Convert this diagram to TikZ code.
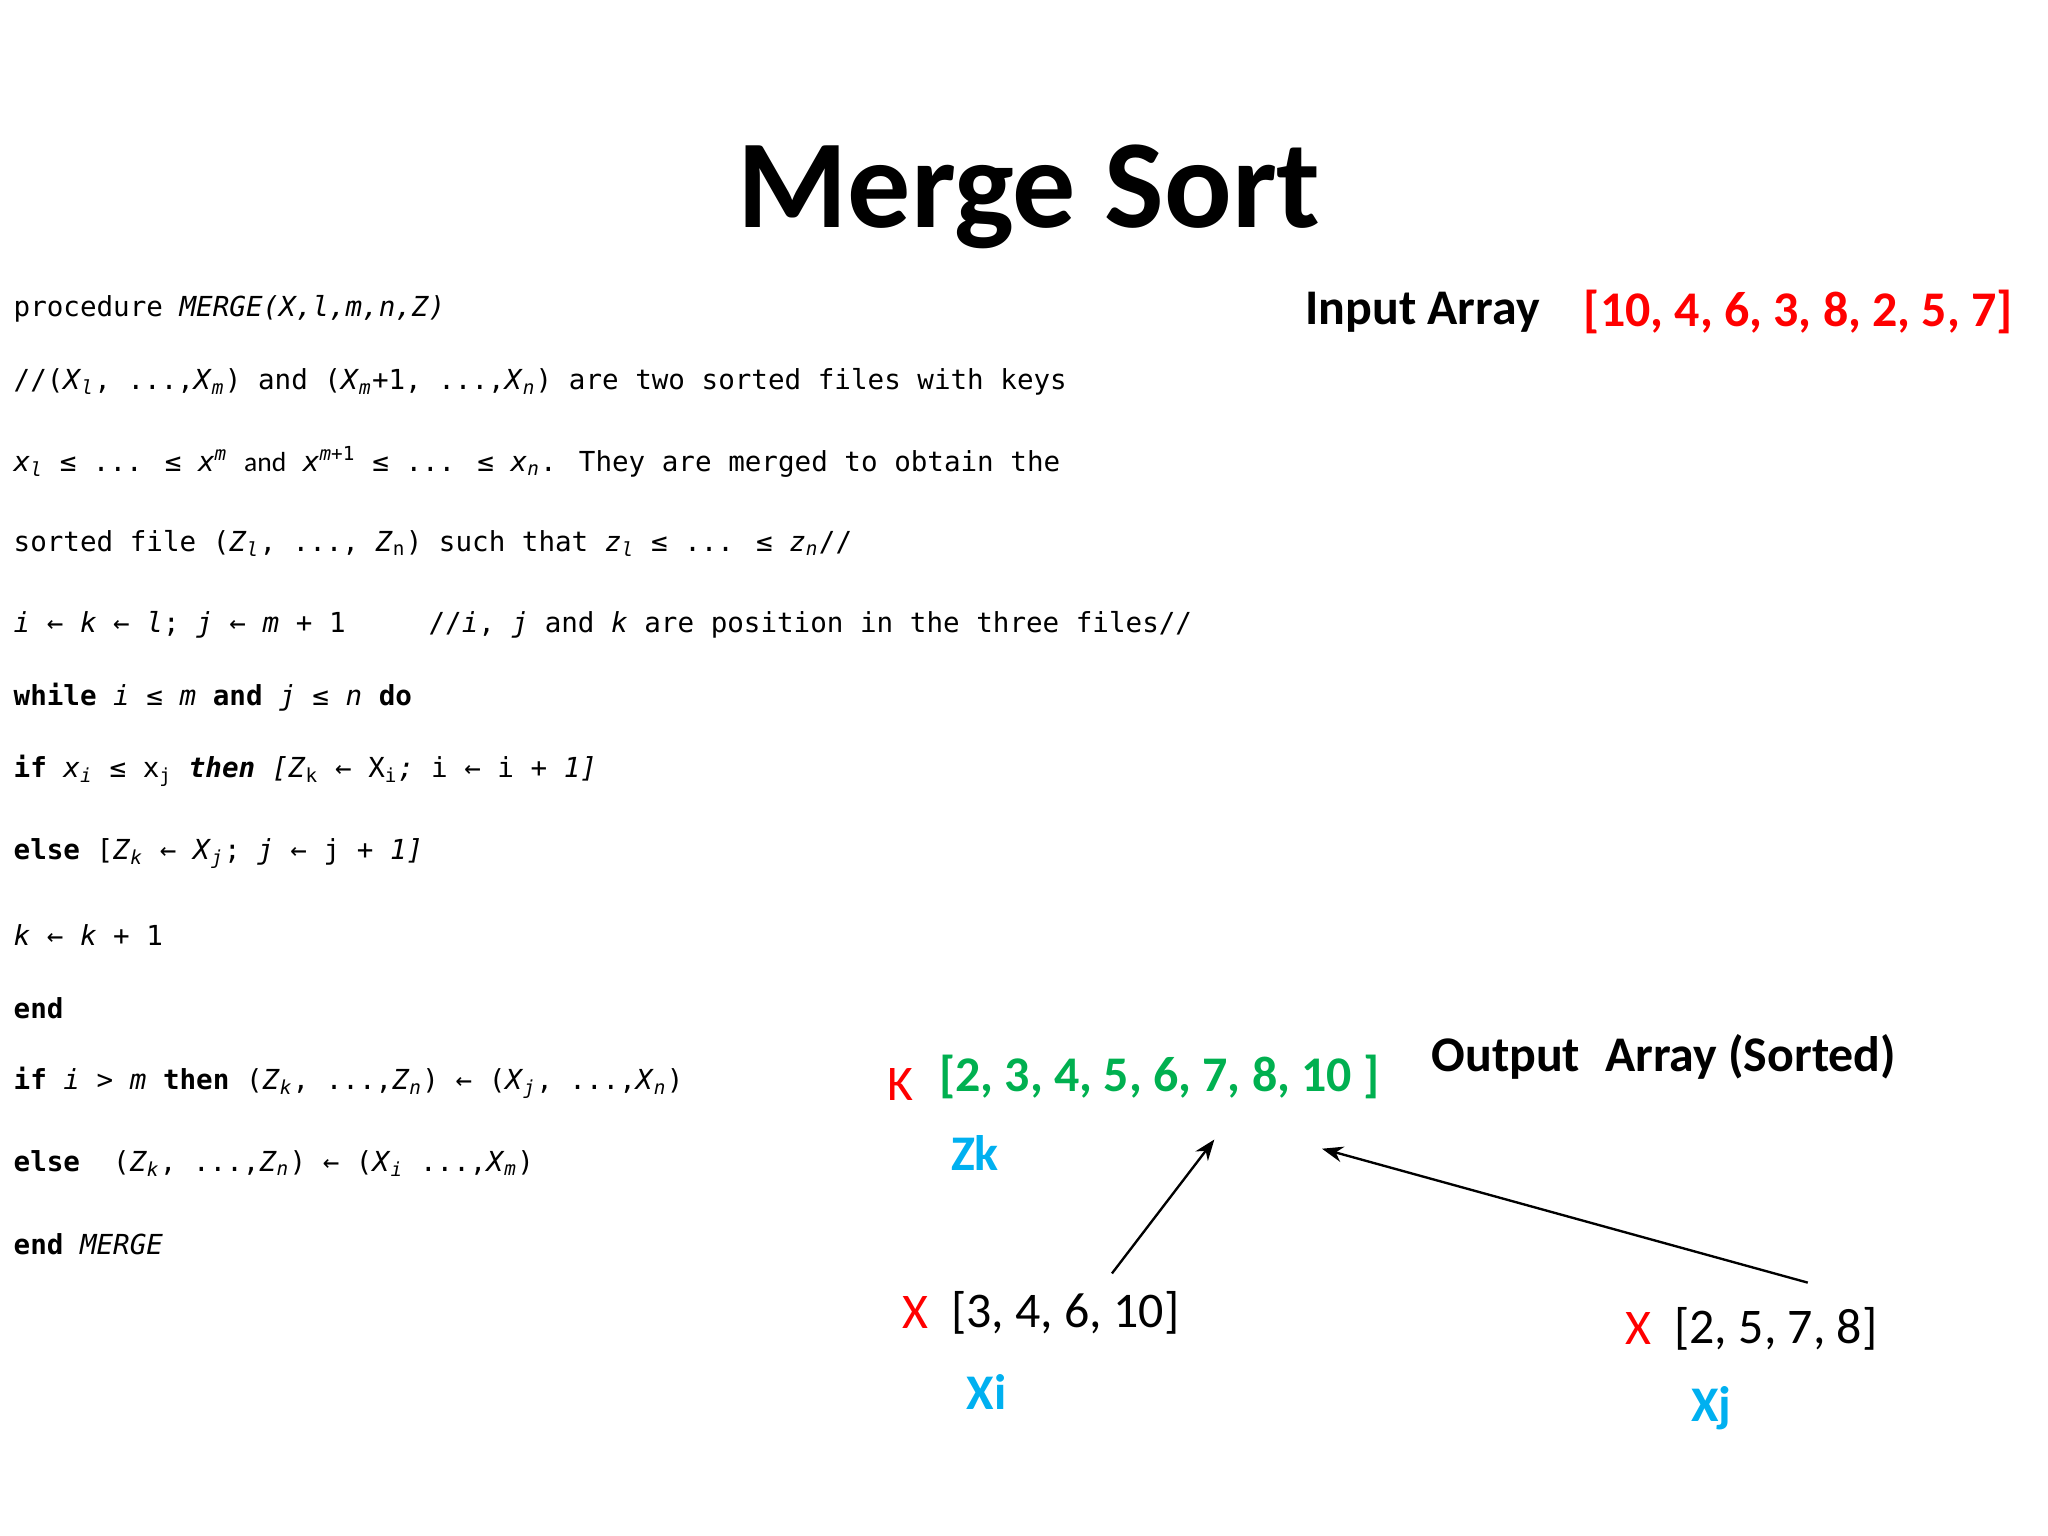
\documentclass[tikz,border=0pt]{standalone}
\usepackage{fontspec}
\usetikzlibrary{arrows.meta}
\setmainfont{Carlito}
\newfontfamily\codef{DejaVu Sans Mono}
\definecolor{myred}{HTML}{FF0000}
\definecolor{mygreen}{HTML}{00B050}
\definecolor{mycyan}{HTML}{00B0F0}
\newcommand{\mysub}[1]{\textsubscript{#1}}
\newcommand{\mysup}[1]{\textsuperscript{#1}}
\begin{document}
\begin{tikzpicture}[x=0.5pt,y=-0.5pt,
  code/.style={anchor=west,inner sep=0pt,font=\codef\fontsize{10.5}{12}\selectfont},
  lbl/.style={inner sep=0pt,font=\bfseries\fontsize{19}{22}\selectfont},
  val/.style={inner sep=0pt,font=\fontsize{19}{22}\selectfont},
  arr/.style={-{Stealth[length=8pt,width=6pt]},line width=0.9pt}]
\useasboundingbox (0,0) rectangle (1560,1170);
\node[inner sep=0pt,font=\bfseries\fontsize{48}{52}\selectfont] (title) at (784,150) {Merge Sort};
\node[code] (l1) at (10,235) {procedure \textit{MERGE(X,l,m,n,Z)}};
\node[code] (l2) at (10,291) {//(\textit{X}\mysub{\textit{l}}, ...,\textit{X}\mysub{\textit{m}}) and (\textit{X}\mysub{\textit{m}}+1, ...,\textit{X}\mysub{\textit{n}}) are two sorted files with keys};
\node[code] (l3) at (10,352) {\textit{x}\mysub{\textit{l}} ≤ ... ≤ \textit{x}\mysup{\textit{m}} {\rmfamily and} \textit{x}\mysup{\textit{m}+1} ≤ ... ≤ \textit{x}\mysub{\textit{n}}. They are merged to obtain the};
\node[code] (l4) at (10,414) {sorted file (\textit{Z}\mysub{\textit{l}}, ..., \textit{Z}\mysub{n}) such that \textit{z}\mysub{\textit{l}} ≤ ... ≤ \textit{z}\mysub{\textit{n}}//};
\node[code] (l5) at (10,476) {\textit{i} ← \textit{k} ← \textit{l}; \textit{j} ← \textit{m} + 1\ \ \ \ \ //\textit{i}, \textit{j} and \textit{k} are position in the three files//};
\node[code] (l6) at (10,531) {\textbf{while} \textit{i} ≤ \textit{m} \textbf{and} \textit{j} ≤ \textit{n} \textbf{do}};
\node[code] (l7) at (10,587) {\textbf{if} \textit{x}\mysub{\textit{i}} ≤ x\mysub{j} \textbf{\textit{then}} \textit{[Z}\mysub{k} ← X\mysub{i}\textit{;} i ← i + \textit{1]}};
\node[code] (l8) at (10,650) {\textbf{else} [\textit{Z}\mysub{\textit{k}} ← \textit{X}\mysub{\textit{j}}; \textit{j} ← j + \textit{1]}};
\node[code] (l9) at (10,712) {\textit{k} ← \textit{k} + 1};
\node[code] (l10) at (10,768) {\textbf{end}};
\node[code] (l11) at (10,825) {\textbf{if} \textit{i} > \textit{m} \textbf{then} (\textit{Z}\mysub{\textit{k}}, ...,\textit{Z}\mysub{\textit{n}}) ← (\textit{X}\mysub{\textit{j}}, ...,\textit{X}\mysub{\textit{n}})};
\node[code] (l12) at (10,886) {\textbf{else}\ \ (\textit{Z}\mysub{\textit{k}}, ...,\textit{Z}\mysub{\textit{n}}) ← (\textit{X}\mysub{\textit{i}} ...,\textit{X}\mysub{\textit{m}})};
\node[code] (l13) at (10,948) {\textbf{end} \textit{MERGE}};
%
\node[lbl,anchor=west] (inlbl) at (994,238) {Input Array};
\node[lbl,anchor=west,text=myred] (inarr) at (1206,238) {[10, 4, 6, 3, 8, 2, 5, 7]};
\node[lbl,anchor=west] (outlbl) at (1090,805) {Output\enspace Array (Sorted)};
\node[val,anchor=west,text=myred] (K) at (676,826) {K};
\node[lbl,anchor=west,text=mygreen] (outarr) at (715,820) {[2, 3, 4, 5, 6, 7, 8, 10 ]};
\node[lbl,anchor=west,text=mycyan] (zk) at (724,878) {Zk};
\node[val,anchor=west,text=myred] (X1) at (687,1000) {X};
\node[val,anchor=west] (a1) at (724,1000) {[3, 4, 6, 10]};
\node[lbl,anchor=west,text=mycyan] (xi) at (736,1060) {Xi};
\node[val,anchor=west,text=myred] (X2) at (1238,1012) {X};
\node[val,anchor=west] (a2) at (1275,1012) {[2, 5, 7, 8]};
\node[lbl,anchor=west,text=mycyan] (xj) at (1288,1073) {Xj};
\coordinate (s1) at (847,970);
\coordinate (e1) at (925,868);
\coordinate (s2) at (1377,977);
\coordinate (e2) at (1007,875);
\draw[arr] (s1) -- (e1);
\draw[arr] (s2) -- (e2);
\end{tikzpicture}
\end{document}
